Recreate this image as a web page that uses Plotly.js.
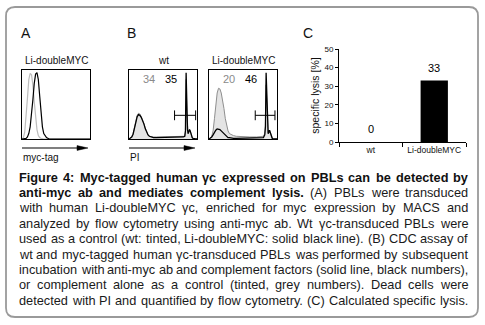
<!DOCTYPE html>
<html>
<head>
<meta charset="utf-8">
<script src="https://cdn.plot.ly/plotly-3.0.1.min.js"></script>
<style>html,body{margin:0;padding:0;background:#fff;}#chart{width:485px;height:325px;}</style>
</head>
<body>
<div id="chart"></div>
<script>
// ---------- DATA ----------
// Panel A: myc-tag histogram (channel units 0-100, % of max)
const mycX  = [0,2,4,6,8,10,12,14,16,18,20,22,24,26,28,30,32,34,36,38,40,100];
const mycWt = [0,2,10,30,60,88,97,95,80,55,30,14,5,2,1,0,0,0,0,0,0,0];
const mycLi = [0,0,0,1,3,8,18,35,58,82,96,98,88,64,38,18,8,4,2,1,0,0];

// Panel B: PI histograms
const piX    = [0,2,4,6,8,10,12,14,16,18,20,22,24,26,28,30,33,36,40,50,60,70,78,80,82,83,84,85,86,87,88,89,90,91,92,93,94,96,98,100];
const wtGrey = [0,1,3,8,17,28,35,38,37,33,29,23,16,10,6,4,3,3,3,3,3,3,3,3,4,10,88,40,12,8,10,14,12,8,4,2,1,0,0,0];
const wtBlack= [0,1,3,7,15,26,33,36,35,32,28,22,15,9,6,4,3,2,2,2,2,2,2,3,4,12,98,45,14,8,10,14,12,8,4,2,1,0,0,0];
const liGrey = [0,1,4,12,30,52,68,75,74,68,58,45,30,19,12,8,6,5,4,3,3,3,3,4,8,20,80,45,14,8,10,13,10,6,3,1,0,0,0,0];
const liBlack= [0,1,3,6,10,13,15,15,14,12,10,7,5,3,2,2,1,1,1,1,1,1,1,2,6,18,98,55,15,8,10,13,10,6,3,1,0,0,0,0];
const wtGate = [67,98];
const liGate = [68,97];
const gateLevel = 35;
const wtCounts = ['34','35'];   // grey (complement alone), black (anti-myc + complement)
const liCounts = ['20','46'];

// Panel C: specific lysis
const barCats = ['wt','Li-doubleMYC'];
const barVals = [0,33];

// Caption
const caption = [
  [['Figure 4: Myc-tagged human γc expressed on PBLs can be detected by',1]],
  [['anti-myc ab and mediates complement lysis.',1],['(A) PBLs were transduced',0]],
  [['with human Li-doubleMYC γc, enriched for myc expression by MACS and',0]],
  [['analyzed by flow cytometry using anti-myc ab. Wt γc-transduced PBLs were',0]],
  [['used as a control (wt: tinted, Li-doubleMYC: solid black line). (B) CDC assay of',0]],
  [['wt and myc-tagged human γc-transduced PBLs was performed by subsequent',0]],
  [['incubation with anti-myc ab and complement factors (solid line, black numbers),',0]],
  [['or complement alone as a control (tinted, grey numbers). Dead cells were',0]],
  [['detected with PI and quantified by flow cytometry. (C) Calculated specific lysis.',0]]
];

// ---------- LAYOUT HELPERS ----------
const W = 485, H = 325;
const FONT = 'Liberation Sans, Arial, sans-serif';
const px = v => v / W;
const py = v => 1 - v / H;

const histAxisX = d => ({domain:[px(d[0]),px(d[1])], range:[0,100], showline:true, mirror:true, linecolor:'#000', linewidth:1,
  showticklabels:false, ticks:'', showgrid:false, zeroline:false, fixedrange:true});
const histAxisY = d => ({domain:[py(d[1]),py(d[0])], range:[0,102], showline:true, mirror:true, linecolor:'#000', linewidth:1,
  showticklabels:false, ticks:'', showgrid:false, zeroline:false, fixedrange:true});

const boxTop = 70, boxBot = 139;
const boxA = [22,90], boxWt = [129,197], boxLi = [209,277];

const traces = [
  {x:mycX, y:mycWt, xaxis:'x', yaxis:'y', mode:'lines', line:{color:'#bdbdbd', width:1.2}},
  {x:mycX, y:mycLi, xaxis:'x', yaxis:'y', mode:'lines', line:{color:'#000', width:1.2}},
  {x:piX, y:wtGrey, xaxis:'x2', yaxis:'y2', mode:'lines', fill:'tozeroy', fillcolor:'#e4e4e4', line:{color:'#8f8f8f', width:1}},
  {x:piX, y:wtBlack, xaxis:'x2', yaxis:'y2', mode:'lines', line:{color:'#000', width:1.3}},
  {x:piX, y:liGrey, xaxis:'x3', yaxis:'y3', mode:'lines', fill:'tozeroy', fillcolor:'#e4e4e4', line:{color:'#8f8f8f', width:1}},
  {x:piX, y:liBlack, xaxis:'x3', yaxis:'y3', mode:'lines', line:{color:'#000', width:1.3}},
  {x:wtGate, y:[gateLevel,gateLevel], xaxis:'x2', yaxis:'y2', mode:'lines+markers', line:{color:'#000', width:1},
   marker:{symbol:'line-ns', size:7, line:{color:'#000', width:1}}},
  {x:liGate, y:[gateLevel,gateLevel], xaxis:'x3', yaxis:'y3', mode:'lines+markers', line:{color:'#000', width:1},
   marker:{symbol:'line-ns', size:7, line:{color:'#000', width:1}}},
  {x:barCats, y:barVals, type:'bar', xaxis:'x4', yaxis:'y4', width:0.43, marker:{color:'#000'}}
];

const ann = [];
const txt = (x, y, text, size, opts) => ann.push(Object.assign({xref:'paper', yref:'paper', x:px(x), y:py(y), text:text,
  showarrow:false, font:{family:FONT, size:size, color:'#111'}, xanchor:'center', yanchor:'middle', borderpad:0}, opts||{}));

txt(20,33,'A',14,{xanchor:'left'});
txt(126,33,'B',14,{xanchor:'left'});
txt(302,33,'C',14,{xanchor:'left'});
txt((boxA[0]+boxA[1])/2,60,'Li-doubleMYC',10);
txt((boxWt[0]+boxWt[1])/2,60,'wt',10);
txt((boxLi[0]+boxLi[1])/2,60,'Li-doubleMYC',10);
txt(22,157,'myc-tag',10,{xanchor:'left'});
txt(129,157,'PI',10,{xanchor:'left'});

// counts
[['x2','y2',wtCounts],['x3','y3',liCounts]].forEach(([xr,yr,c]) => {
  ann.push({xref:xr, yref:yr, x:30, y:88, text:c[0], showarrow:false, font:{family:FONT,size:11,color:'#8a8a8a'}, xanchor:'center', yanchor:'middle'});
  ann.push({xref:xr, yref:yr, x:62, y:88, text:c[1], showarrow:false, font:{family:FONT,size:11,color:'#000'}, xanchor:'center', yanchor:'middle'});
});

// bar value labels
barCats.forEach((c,i) => ann.push({xref:'x4', yref:'y4', x:c, y:barVals[i], text:String(barVals[i]), showarrow:false,
  yanchor:'bottom', yshift:5, font:{family:FONT, size:11, color:'#000'}}));

// caption, justified word by word; font size fitted so the widest normal line has normal spacing
const cnv = document.createElement('canvas').getContext('2d');
const capL = 18, capR = 467, capTop = 177, capStep = 15.4;
const widthAt = (s, b, size) => { cnv.font = (b?'bold ':'') + size + 'px "Liberation Sans"'; return cnv.measureText(s).width; };
let maxW = 0;
caption.forEach(line => { if (line.length === 1 && !line[0][1]) maxW = Math.max(maxW, widthAt(line[0][0], 0, 12)); });
const capSize = Math.min(13.5, 12 * (capR - capL) / maxW);
caption.forEach((line, li) => {
  const words = [];
  line.forEach(([s,b]) => s.split(' ').forEach(w => words.push([w,b])));
  let tot = 0;
  const widths = words.map(([w,b]) => { const m = widthAt(w, b, capSize); tot += m; return m; });
  const gap = Math.max(1.5, (capR - capL - tot) / (words.length - 1));
  let x = capL;
  words.forEach(([w,b],i) => {
    txt(x, capTop + li*capStep, b ? '<b>'+w+'</b>' : w, capSize, {xanchor:'left', font:{family:FONT, size:capSize, color: b?'#111':'#1a1a1a'}});
    x += widths[i] + gap;
  });
});

// shapes: rounded frame and arrows
const L=6, R=478, T=7, B=317, r=9;
const P = (x,y) => px(x)+','+py(y);
const frame = 'M'+P(L+r,T)+' L'+P(R-r,T)+' Q'+P(R,T)+' '+P(R,T+r)+' L'+P(R,B-r)+' Q'+P(R,B)+' '+P(R-r,B)+
  ' L'+P(L+r,B)+' Q'+P(L,B)+' '+P(L,B-r)+' L'+P(L,T+r)+' Q'+P(L,T)+' '+P(L+r,T)+' Z';
const shapes = [{type:'path', xref:'paper', yref:'paper', path:frame, line:{color:'#9a9a9a', width:1.8}, fillcolor:'rgba(0,0,0,0)'}];
[[22,88],[129,195]].forEach(([a,b]) => {
  shapes.push({type:'line', xref:'paper', yref:'paper', x0:px(a), x1:px(b-8), y0:py(148), y1:py(148), line:{color:'#000', width:1.2}});
  shapes.push({type:'path', xref:'paper', yref:'paper', path:'M'+P(b-11,145.6)+' L'+P(b,148)+' L'+P(b-11,150.4)+' Z', fillcolor:'#000', line:{color:'#000', width:0.5}});
});

const layout = {
  width:W, height:H, margin:{l:0,r:0,t:0,b:0}, paper_bgcolor:'#fff', plot_bgcolor:'rgba(0,0,0,0)',
  showlegend:false, hovermode:false, font:{family:FONT, color:'#111'},
  xaxis:Object.assign(histAxisX(boxA),{anchor:'y'}), yaxis:Object.assign(histAxisY([boxTop,boxBot]),{anchor:'x'}),
  xaxis2:Object.assign(histAxisX(boxWt),{anchor:'y2'}), yaxis2:Object.assign(histAxisY([boxTop,boxBot]),{anchor:'x2'}),
  xaxis3:Object.assign(histAxisX(boxLi),{anchor:'y3'}), yaxis3:Object.assign(histAxisY([boxTop,boxBot]),{anchor:'x3'}),
  xaxis4:{domain:[px(339),px(466)], anchor:'y4', type:'category', range:[-0.5,1.5], showline:true, linecolor:'#000', linewidth:1,
    ticks:'outside', tickson:'boundaries', ticklen:4, tickcolor:'#000', tickfont:{family:FONT,size:8.5,color:'#111'}, showgrid:false, zeroline:false, fixedrange:true},
  yaxis4:{domain:[py(142),py(49)], anchor:'x4', range:[0,50], dtick:10, showline:true, linecolor:'#000', linewidth:1,
    ticks:'outside', ticklen:3, tickcolor:'#000', tickfont:{family:FONT,size:8,color:'#111'}, showgrid:false, zeroline:false, fixedrange:true,
    title:{text:'specific lysis [%]', font:{family:FONT,size:10.5,color:'#111'}, standoff:2}},
  annotations:ann, shapes:shapes
};

Plotly.newPlot('chart', traces, layout, {staticPlot:true, displayModeBar:false});
</script>
</body>
</html>
